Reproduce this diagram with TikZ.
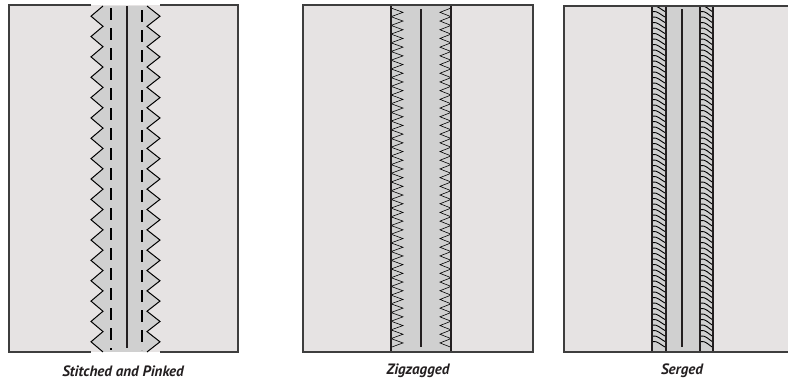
\documentclass[tikz,border=0pt]{standalone}
\usepackage{fontspec}
\setmainfont{PT Sans}
\definecolor{SGCloth}{RGB}{230,227,227}
\definecolor{SGSeam}{RGB}{208,208,208}
\definecolor{SGEdge}{RGB}{62,62,62}
\definecolor{SGInk}{RGB}{35,31,32}

\begin{document}
\begin{tikzpicture}[x=1pt,y=-1pt,
    border/.style={draw=SGEdge,line width=1.6pt},
    seamline/.style={draw=SGInk,line width=1.1pt},
    thread/.style={draw=black,line width=0.6pt},
    pinking/.style={draw=black,line width=1pt,line join=miter},
    caption/.style={font=\fontsize{15}{17}\selectfont\bfseries\itshape,text=SGInk}]
  \useasboundingbox (0,0) rectangle (788,386);

  % stitched and pinked
  \fill[SGCloth] (9,5) rectangle (238,352);
  \fill[SGSeam] (103,6)
    \foreach \k in {0,...,16} { -- (91,{16.2+20.35*\k}) -- (103,{26.35+20.35*\k}) }
    -- (147,352)
    \foreach \k in {16,...,0} { -- (160,{16.2+20.35*\k}) -- (147,{6+20.35*\k}) }
    -- cycle;
  \draw[pinking] (103,6)
    \foreach \k in {0,...,16} { -- (91,{16.2+20.35*\k}) -- (103,{26.35+20.35*\k}) };
  \draw[pinking] (147,6)
    \foreach \k in {0,...,16} { -- (160,{16.2+20.35*\k}) -- (147,{26.35+20.35*\k}) };
  \draw[border] (91,5) -- (9,5) -- (9,352) -- (91,352);
  \draw[border] (160,5) -- (238,5) -- (238,352) -- (160,352);
  \draw[seamline] (127,6) -- (127,348);
  \draw[black,line width=1.4pt,dash pattern=on 12pt off 8pt] (111,8) -- (111,350);
  \draw[black,line width=1.4pt,dash pattern=on 12pt off 8pt] (142,10) -- (142,350);

  % zigzagged
  \fill[SGCloth] (303,5) rectangle (533,352);
  \fill[SGSeam] (391,5) rectangle (451,352);
  \draw[thread] (391,8)
    \foreach \k in {0,...,38} { -- (403,{12.35+8.7*\k}) -- (391,{16.7+8.7*\k}) };
  \draw[thread] (451,8)
    \foreach \k in {0,...,38} { -- (440,{12.35+8.7*\k}) -- (451,{16.7+8.7*\k}) };
  \draw[seamline] (391,5) -- (391,352);
  \draw[seamline] (451,5) -- (451,352);
  \draw[seamline] (421,9) -- (421,347);
  \draw[border] (303,5) rectangle (533,352);

  % serged
  \fill[SGCloth] (564,6) rectangle (788,352);
  \fill[SGSeam] (652,6) rectangle (713,352);
  \foreach \k in {0,...,61} {
    \draw[thread,line width=0.9pt] (652,{6+5.5*\k}) .. controls (658,{5+5.5*\k}) and (661,{10+5.5*\k}) .. (666,{12+5.5*\k});
    \draw[thread,line width=0.9pt] (700,{6+5.5*\k}) .. controls (706,{5+5.5*\k}) and (709,{10+5.5*\k}) .. (713,{12+5.5*\k});
  }
  \fill[white] (650,0) rectangle (715,5);
  \fill[white] (650,353) rectangle (715,360);
  \foreach \x in {652,666,700,713} {
    \draw[seamline] (\x,6) -- (\x,352);
  }
  \draw[seamline] (682,9) -- (682,347);
  \draw[border] (790,6) -- (564,6) -- (564,352) -- (790,352);

  \node[caption] (capPinked) at (123,371) {Stitched and Pinked};
  \node[caption] (capZigzag) at (418,371) {Zigzagged};
  \node[caption] (capSerged) at (682,371) {Serged};
\end{tikzpicture}
\end{document}
